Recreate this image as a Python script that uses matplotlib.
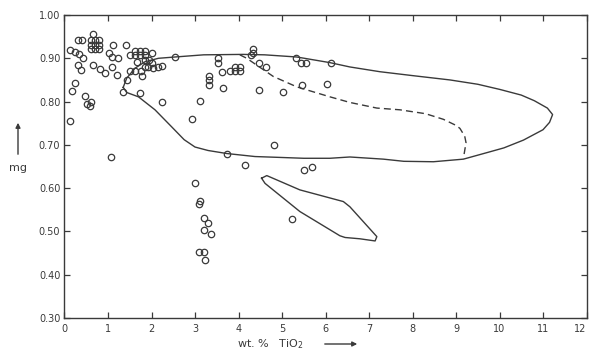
'''
mg vs wt.% TiO2 scatter with envelope outlines.
'''

import numpy as np
import matplotlib
matplotlib.use('Agg')
import matplotlib.pyplot as plt

# sample points (wt.% TiO2, mg)
tio2 = [0.13, 0.13, 0.18, 0.24, 0.24, 0.32, 0.40, 0.34, 0.42, 0.32, 0.38,
        0.66, 0.60, 0.70, 0.80, 0.60, 0.70, 0.80, 0.60, 0.70, 0.80,
        0.66, 0.82, 0.93, 0.47, 0.51, 0.59, 0.61,
        1.03, 1.10, 1.24, 1.11, 1.10, 1.21, 1.06, 1.41,
        1.51, 1.62, 1.74, 1.84, 1.62, 1.74, 1.85, 2.02,
        1.66, 1.85, 1.94, 2.00,
        1.51, 1.62, 1.76, 1.84, 1.93, 2.04, 2.16, 2.23,
        1.79, 1.43, 1.35, 1.74, 2.23,
        2.54, 2.92, 3.11,
        3.52, 3.52, 3.61, 3.32, 3.32, 3.33, 3.64,
        3.80, 3.92, 4.03, 3.92, 4.03,
        3.73, 4.15,
        4.34, 4.33, 4.28, 4.48, 4.63, 5.32, 5.43, 5.55, 6.13, 5.45, 6.04,
        4.47, 5.03, 4.82, 5.51, 5.70, 5.22,
        3.00, 3.11, 3.10, 3.21, 3.31, 3.21, 3.36, 3.10, 3.21, 3.23]
mg = [0.919, 0.754, 0.825, 0.842, 0.915, 0.942, 0.942, 0.909, 0.900, 0.885, 0.872,
      0.955, 0.942, 0.942, 0.942, 0.931, 0.931, 0.931, 0.921, 0.921, 0.921,
      0.884, 0.875, 0.867, 0.814, 0.794, 0.790, 0.800,
      0.913, 0.902, 0.900, 0.931, 0.881, 0.861, 0.671, 0.931,
      0.908, 0.918, 0.918, 0.918, 0.908, 0.908, 0.908, 0.912,
      0.892, 0.896, 0.896, 0.888,
      0.871, 0.871, 0.871, 0.881, 0.881, 0.877, 0.881, 0.882,
      0.859, 0.850, 0.822, 0.819, 0.800,
      0.902, 0.760, 0.802,
      0.900, 0.888, 0.869, 0.859, 0.850, 0.838, 0.831,
      0.871, 0.871, 0.871, 0.881, 0.881,
      0.680, 0.654,
      0.921, 0.912, 0.908, 0.888, 0.881, 0.900, 0.888, 0.890, 0.888, 0.838, 0.840,
      0.827, 0.821, 0.700, 0.642, 0.650, 0.529,
      0.613, 0.571, 0.563, 0.530, 0.520, 0.503, 0.494, 0.453, 0.453, 0.434]

# large solid envelope
env_x = [1.35, 1.43, 1.62, 1.85, 2.16, 2.54, 3.2, 4.1, 4.6, 5.34, 6.1, 6.56, 7.25,
         8.0, 8.86, 9.5, 10.01, 10.5, 10.8, 11.1, 11.22, 11.15, 11.0, 10.55,
         10.1, 9.78, 9.17, 8.48, 7.8, 7.33, 6.56, 6.1, 5.5, 4.95, 4.38, 3.73,
         3.3, 3.0, 2.75, 2.46, 2.08, 1.70, 1.43, 1.35]
env_y = [0.833, 0.854, 0.877, 0.892, 0.900, 0.903, 0.908, 0.909, 0.908, 0.903,
         0.890, 0.880, 0.869, 0.860, 0.850, 0.840, 0.828, 0.815, 0.802, 0.785,
         0.770, 0.752, 0.735, 0.711, 0.693, 0.684, 0.667, 0.661, 0.662, 0.667,
         0.672, 0.669, 0.669, 0.671, 0.673, 0.680, 0.687, 0.695, 0.712, 0.742,
         0.781, 0.811, 0.821, 0.833]

# dashed inner boundary
dash_x = [4.03, 4.19, 4.48, 4.80, 5.34, 6.10, 6.56, 7.18, 7.71, 8.3, 8.71, 9.0,
          9.09, 9.2, 9.23, 9.17]
dash_y = [0.908, 0.900, 0.880, 0.858, 0.834, 0.811, 0.798, 0.785, 0.781, 0.772,
          0.759, 0.745, 0.738, 0.720, 0.705, 0.669]

# small lens-shaped field
lens_x = [4.53, 4.65, 5.41, 6.41, 6.56, 7.18, 7.14, 6.79, 6.45, 6.33, 5.41, 4.61, 4.53]
lens_y = [0.623, 0.629, 0.596, 0.569, 0.557, 0.488, 0.478, 0.483, 0.486, 0.490,
          0.546, 0.611, 0.623]

xticks = list(range(0, 13))
xticklabels = [str(t) for t in xticks]
yticks = [0.30, 0.40, 0.50, 0.60, 0.70, 0.80, 0.90, 1.00]
yticklabels = ['0.30', '0.40', '0.50', '0.60', '0.70', '0.80', '0.90', '1.00']

ink = '#3a3a3a'

fig = plt.figure(figsize=(5.89, 3.54), dpi=100)
ax = fig.add_axes([0.1095, 0.1017, 0.8863, 0.8559])

ax.plot(env_x, env_y, color=ink, lw=1.0)
ax.plot(dash_x, dash_y, color=ink, lw=1.0, ls=(0, (5, 3)))
ax.plot(lens_x, lens_y, color=ink, lw=1.0)

ax.plot(tio2, mg, 'o', ms=4.6, mfc='none', mec=ink, mew=0.9)

ax.set_xlim(0, 12)
ax.set_ylim(0.30, 1.00)
ax.set_xticks(xticks)
ax.set_xticklabels(xticklabels)
ax.set_yticks(yticks)
ax.set_yticklabels(yticklabels)
ax.tick_params(direction='in', length=4, width=0.9, colors=ink, labelsize=7,
               top=True, right=True, pad=3)
ax.tick_params(axis='x', pad=4)
ax.get_xticklabels()[-1].set_horizontalalignment('right')
for s in ax.spines.values():
    s.set_color(ink)
    s.set_linewidth(1.0)

# axis labels with arrows
fig.text(18/589, 1 - 168/354, 'mg', ha='center', va='center', fontsize=8, color=ink)
fig.add_artist(matplotlib.patches.FancyArrowPatch(
    (18/589, 1 - 157/354), (18/589, 1 - 120/354), transform=fig.transFigure,
    arrowstyle='-|>', mutation_scale=7, color=ink, lw=1.0))

fig.text(270/589, 1 - 344/354, 'wt. %   TiO$_2$', ha='center', va='center',
         fontsize=8, color=ink)
fig.add_artist(matplotlib.patches.FancyArrowPatch(
    (322/589, 1 - 344/354), (360/589, 1 - 344/354), transform=fig.transFigure,
    arrowstyle='-|>', mutation_scale=7, color=ink, lw=1.0))

fig.savefig('out.png', dpi=100)
